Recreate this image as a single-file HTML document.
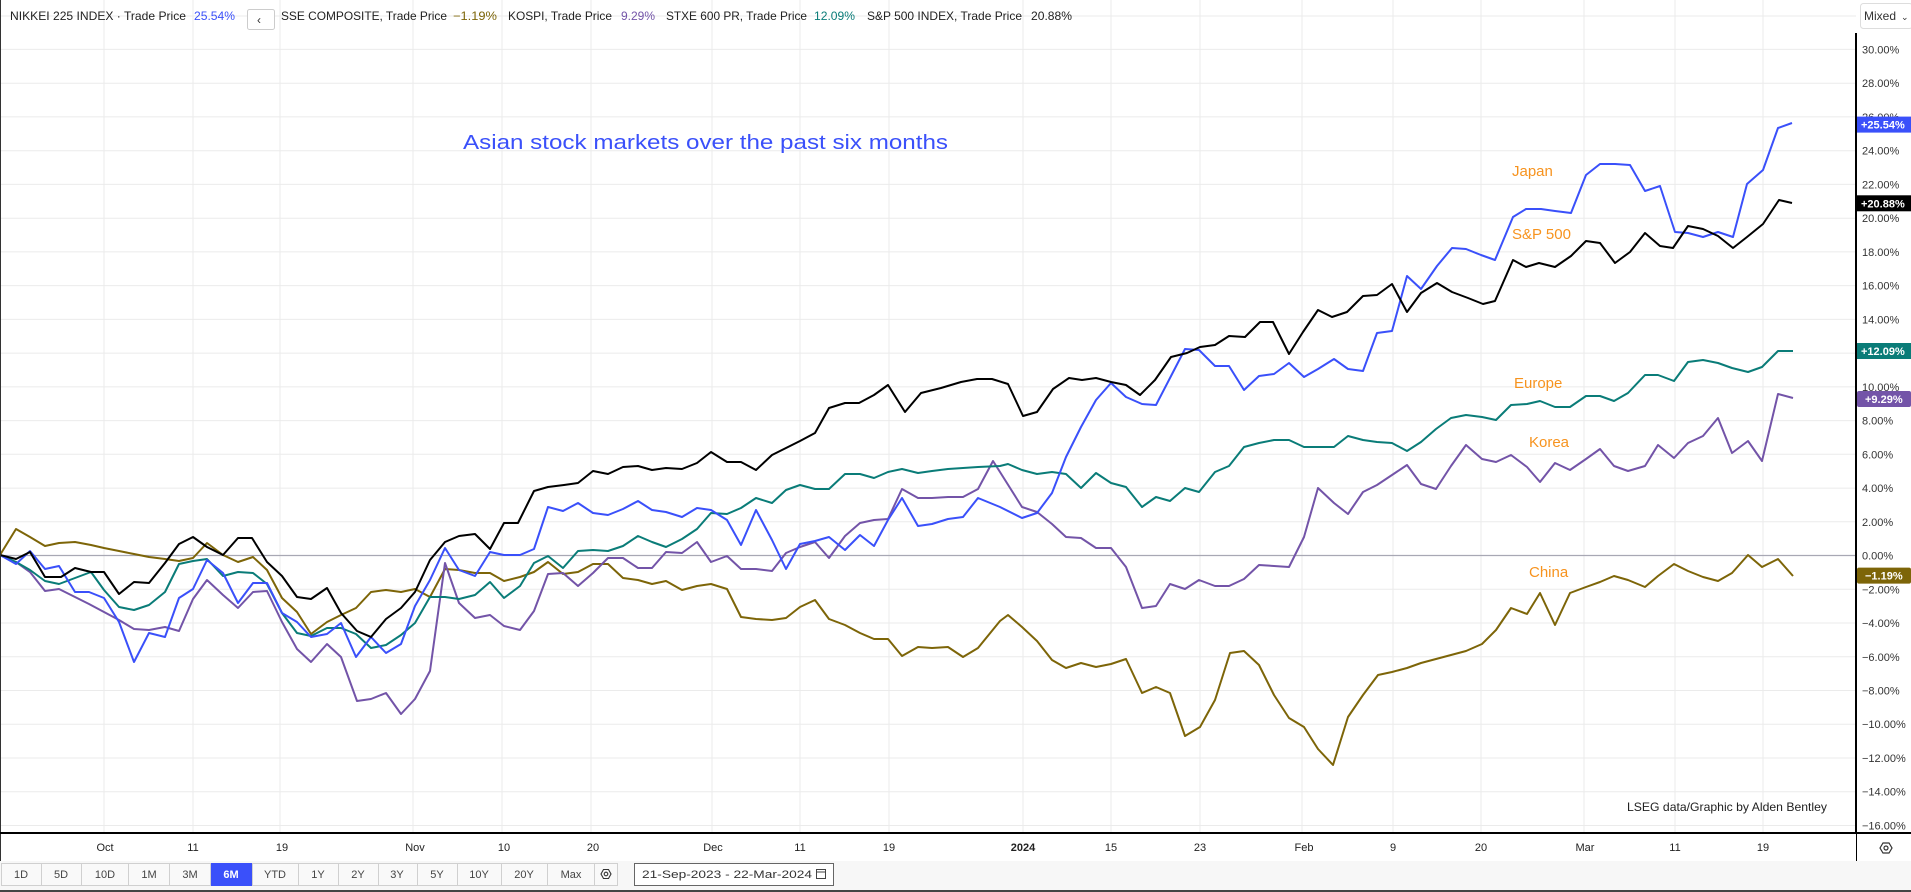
<!DOCTYPE html>
<html><head><meta charset="utf-8"><style>
html,body{margin:0;padding:0;background:#fff;}
svg{display:block;font-family:"Liberation Sans",sans-serif;}
</style></head><body>
<svg width="1911" height="892" viewBox="0 0 1911 892" xmlns="http://www.w3.org/2000/svg">
<rect x="0" y="0" width="1911" height="892" fill="#fff"/>
<g stroke="#ebebeb" stroke-width="1">
<line x1="0" y1="16" x2="1856" y2="16"/>
<line x1="0" y1="49.4" x2="1856" y2="49.4"/><line x1="0" y1="83.2" x2="1856" y2="83.2"/><line x1="0" y1="116.9" x2="1856" y2="116.9"/><line x1="0" y1="150.7" x2="1856" y2="150.7"/><line x1="0" y1="184.4" x2="1856" y2="184.4"/><line x1="0" y1="218.2" x2="1856" y2="218.2"/><line x1="0" y1="251.9" x2="1856" y2="251.9"/><line x1="0" y1="285.6" x2="1856" y2="285.6"/><line x1="0" y1="319.4" x2="1856" y2="319.4"/><line x1="0" y1="353.1" x2="1856" y2="353.1"/><line x1="0" y1="386.9" x2="1856" y2="386.9"/><line x1="0" y1="420.6" x2="1856" y2="420.6"/><line x1="0" y1="454.3" x2="1856" y2="454.3"/><line x1="0" y1="488.1" x2="1856" y2="488.1"/><line x1="0" y1="521.8" x2="1856" y2="521.8"/><line x1="0" y1="589.3" x2="1856" y2="589.3"/><line x1="0" y1="623" x2="1856" y2="623"/><line x1="0" y1="656.8" x2="1856" y2="656.8"/><line x1="0" y1="690.5" x2="1856" y2="690.5"/><line x1="0" y1="724.2" x2="1856" y2="724.2"/><line x1="0" y1="758" x2="1856" y2="758"/><line x1="0" y1="791.7" x2="1856" y2="791.7"/><line x1="0" y1="825.5" x2="1856" y2="825.5"/>
<line x1="104" y1="0" x2="104" y2="833"/><line x1="193" y1="0" x2="193" y2="833"/><line x1="280" y1="0" x2="280" y2="833"/><line x1="413" y1="0" x2="413" y2="833"/><line x1="502" y1="0" x2="502" y2="833"/><line x1="591" y1="0" x2="591" y2="833"/><line x1="712" y1="0" x2="712" y2="833"/><line x1="800" y1="0" x2="800" y2="833"/><line x1="889" y1="0" x2="889" y2="833"/><line x1="1023" y1="0" x2="1023" y2="833"/><line x1="1111" y1="0" x2="1111" y2="833"/><line x1="1200" y1="0" x2="1200" y2="833"/><line x1="1302" y1="0" x2="1302" y2="833"/><line x1="1393" y1="0" x2="1393" y2="833"/><line x1="1481" y1="0" x2="1481" y2="833"/><line x1="1584" y1="0" x2="1584" y2="833"/><line x1="1675" y1="0" x2="1675" y2="833"/><line x1="1763" y1="0" x2="1763" y2="833"/>
</g>
<line x1="0" y1="555.5" x2="1856" y2="555.5" stroke="#a8a8b4" stroke-width="1.2"/>
<g fill="none" stroke-width="2" stroke-linejoin="round">
<polyline stroke="#7d6508" points="0,555 16,529 30,537 45,546 59,543 75,542 91,545 104,548 119,551 134,554 149,557 165,559 179,561 193,558 207,543 223,555 238,562 253,557 267,570 282,598 297,612 311,634 327,622 341,615 356,608 371,592 386,590 401,592 415,589 430,597 445,569 459,570 475,573 490,573 504,581 520,577 534,572 548,562 563,574 578,572 593,564 608,564 623,578 638,580 652,584 666,581 682,590 697,586 711,584 727,589 741,617 756,619 772,620 786,618 800,607 815,600 829,619 845,625 860,633 874,639 888,639 902,656 918,647 932,648 948,647 963,657 978,648 1000,621 1008,615 1022,627 1037,641 1052,660 1066,668 1081,663 1096,667 1111,664 1126,659 1142,693 1156,687 1170,693 1185,736 1200,727 1215,700 1230,653 1244,651 1259,665 1274,695 1289,718 1304,727 1318,749 1333,765 1348,717 1363,695 1378,675 1392,672 1407,668 1421,663 1436,659 1451,655 1466,651 1482,644 1496,630 1511,608 1527,614 1540,593 1555,625 1570,593 1586,587 1600,582 1614,576 1628,580 1645,587 1658,576 1674,564 1688,571 1703,577 1718,581 1732,573 1748,555 1762,567 1778,559 1793,576"/>
<polyline stroke="#7354a8" points="0,555 16,562 30,572 45,591 59,589 75,597 89,604 104,612 119,620 134,629 149,630 165,627 179,631 193,599 207,580 223,595 238,608 253,592 267,591 282,622 297,649 311,662 327,644 341,657 357,701 371,699 386,693 401,714 415,699 430,671 445,563 459,603 475,618 490,615 504,626 520,630 534,611 548,574 563,573 578,586 593,573 608,558 623,558 638,568 652,568 666,552 682,553 697,542 711,562 727,556 741,569 756,569 772,571 786,553 800,547 815,542 829,558 845,536 860,523 874,520 888,519 902,489 918,498 932,498 948,497 963,497 978,489 993,461 1000,472 1022,507 1037,512 1052,524 1066,537 1081,538 1096,548 1111,548 1126,567 1142,608 1156,606 1170,584 1185,589 1199,580 1215,586 1229,586 1244,579 1259,565 1274,566 1289,567 1304,537 1318,488 1334,503 1348,514 1363,492 1377,485 1392,475 1407,465 1421,484 1436,489 1451,466 1466,445 1482,459 1496,462 1511,455 1527,467 1540,482 1555,463 1570,470 1586,459 1600,449 1614,466 1628,471 1645,466 1658,445 1674,458 1688,443 1703,436 1718,418 1732,453 1748,441 1762,461 1778,394 1793,398"/>
<polyline stroke="#0a7c78" points="0,555 16,562 30,570 45,581 59,584 75,578 91,572 104,590 119,607 134,610 149,605 165,592 179,564 193,561 207,559 223,576 238,572 253,573 267,584 282,613 297,633 311,636 327,628 341,628 356,634 371,648 386,645 401,635 415,623 430,597 445,597 459,599 475,595 490,582 504,598 520,586 534,563 548,556 563,568 578,551 593,550 608,551 623,546 638,536 652,542 666,547 682,539 697,529 711,513 727,514 741,508 756,498 772,503 786,490 800,485 815,489 829,489 845,474 860,474 874,478 888,472 902,469 918,473 932,471 948,469 963,468 978,467 1000,466 1008,464 1022,470 1037,474 1052,472 1066,474 1081,488 1096,473 1111,483 1126,487 1142,507 1156,497 1170,501 1185,488 1199,492 1215,472 1229,466 1244,447 1259,443 1274,440 1289,440 1304,447 1318,447 1334,447 1348,436 1363,440 1377,442 1392,443 1407,451 1421,442 1436,429 1451,418 1466,415 1482,417 1496,420 1511,405 1527,404 1540,401 1555,407 1570,407 1586,396 1600,396 1614,401 1628,393 1645,375 1658,375 1674,381 1688,362 1703,360 1718,363 1732,368 1748,372 1762,367 1778,351 1793,351"/>
<polyline stroke="#3a50fa" points="0,555 16,564 30,551 45,569 59,566 75,592 89,592 104,598 119,622 134,662 149,633 165,637 179,598 193,589 207,560 223,573 238,603 253,583 267,583 282,613 297,622 311,637 327,634 341,623 356,657 371,637 386,653 401,644 415,606 430,580 445,548 459,570 475,576 490,552 504,555 520,555 534,549 548,507 563,511 578,503 593,513 608,515 623,509 638,501 652,510 666,512 682,517 697,508 711,510 727,520 741,545 756,510 772,540 786,569 800,544 815,541 829,537 845,550 860,535 874,546 888,520 902,498 918,526 932,524 948,519 963,517 978,498 1000,507 1022,518 1037,513 1052,493 1066,457 1081,427 1096,400 1111,383 1126,397 1142,404 1156,405 1170,378 1185,349 1199,350 1215,366 1229,366 1244,390 1259,376 1274,374 1289,363 1304,377 1318,369 1334,359 1348,369 1363,371 1377,333 1392,331 1407,276 1421,289 1437,266 1452,248 1466,249 1481,255 1495,260 1513,217 1526,209 1541,209 1555,211 1571,213 1586,175 1600,164 1615,164 1630,165 1645,191 1660,186 1675,232 1688,233 1703,237 1718,232 1733,237 1747,184 1763,170 1778,128 1792,123"/>
<polyline stroke="#000" points="0,555 16,559 30,552 45,577 61,577 75,568 91,572 104,572 119,594 134,582 149,583 165,563 179,544 193,537 207,547 223,555 238,538 252,538 267,562 282,576 297,597 311,599 327,588 341,613 357,631 371,637 386,619 401,608 415,592 430,560 445,542 459,536 475,534 490,549 504,523 518,523 534,491 548,487 564,485 578,483 593,471 608,474 623,467 638,466 652,470 666,468 682,469 697,463 711,452 727,462 741,462 756,470 772,455 786,448 800,441 815,433 829,408 845,403 859,403 874,395 888,385 905,412 921,393 941,388 961,382 977,379 992,379 1008,384 1023,416 1037,412 1053,389 1069,378 1082,380 1096,378 1111,382 1126,385 1140,395 1155,380 1171,357 1187,353 1200,347 1215,345 1229,336 1245,337 1260,322 1273,322 1289,354 1303,332 1318,310 1332,317 1347,312 1363,296 1377,295 1392,284 1407,312 1421,293 1437,283 1452,292 1468,298 1483,304 1495,301 1513,260 1526,267 1539,263 1555,267 1571,256 1586,241 1600,243 1615,263 1630,252 1645,233 1660,246 1673,248 1688,226 1703,229 1718,236 1733,248 1747,237 1763,224 1779,200 1792,203"/>
</g>
<text x="463" y="149" font-size="20" fill="#3a50fa" textLength="485" lengthAdjust="spacingAndGlyphs">Asian stock markets over the past six months</text>
<g font-size="15" fill="#f7931e">
<text x="1512" y="176">Japan</text>
<text x="1512" y="239">S&amp;P 500</text>
<text x="1514" y="388">Europe</text>
<text x="1529" y="447">Korea</text>
<text x="1529" y="577">China</text>
</g>
<text x="1627" y="811" font-size="12" fill="#222" textLength="200" lengthAdjust="spacingAndGlyphs">LSEG data/Graphic by Alden Bentley</text>
<line x1="0.5" y1="0" x2="0.5" y2="892" stroke="#333" stroke-width="1"/>
<rect x="1857" y="33" width="54" height="828" fill="#fff"/>
<line x1="1856" y1="33" x2="1856" y2="861" stroke="#000" stroke-width="2"/>
<line x1="0" y1="833" x2="1911" y2="833" stroke="#000" stroke-width="2"/>
<rect x="1" y="834" width="1855" height="27" fill="#fff"/>
<g font-size="11" fill="#333">
<text x="1862" y="53.4">30.00%</text><text x="1862" y="87.2">28.00%</text><text x="1862" y="120.9">26.00%</text><text x="1862" y="154.7">24.00%</text><text x="1862" y="188.4">22.00%</text><text x="1862" y="222.2">20.00%</text><text x="1862" y="255.9">18.00%</text><text x="1862" y="289.6">16.00%</text><text x="1862" y="323.4">14.00%</text><text x="1862" y="357.1">12.00%</text><text x="1862" y="390.9">10.00%</text><text x="1862" y="424.6">8.00%</text><text x="1862" y="458.3">6.00%</text><text x="1862" y="492.1">4.00%</text><text x="1862" y="525.8">2.00%</text><text x="1862" y="559.5">0.00%</text><text x="1862" y="593.3">−2.00%</text><text x="1862" y="627">−4.00%</text><text x="1862" y="660.8">−6.00%</text><text x="1862" y="694.5">−8.00%</text><text x="1862" y="728.2">−10.00%</text><text x="1862" y="762">−12.00%</text><text x="1862" y="795.7">−14.00%</text><text x="1862" y="829.5">−16.00%</text>
</g>
<g font-size="11" font-weight="bold" fill="#fff">
<rect x="1857" y="116.6" width="54" height="16" fill="#3a50fa"/><text x="1861" y="128.6">+25.54%</text>
<rect x="1857" y="195.3" width="54" height="16" fill="#000"/><text x="1861" y="207.3">+20.88%</text>
<rect x="1857" y="343" width="54" height="16" fill="#0a7c78"/><text x="1861" y="355">+12.09%</text>
<rect x="1857" y="391" width="54" height="16" rx="2" fill="#7354a8"/><text x="1865" y="403">+9.29%</text>
<rect x="1857" y="567.6" width="54" height="16" rx="2" fill="#7d6508"/><text x="1865" y="579.6">−1.19%</text>
</g>
<rect x="1860.5" y="3.5" width="52" height="25" rx="3" fill="#fff" stroke="#ddd"/>
<text x="1864" y="20" font-size="12" fill="#333">Mixed</text>
<text x="1901" y="20" font-size="9" fill="#333">⌄</text>
<g font-size="12">
<text x="10" y="20" fill="#222" textLength="176" lengthAdjust="spacingAndGlyphs">NIKKEI 225 INDEX · Trade Price</text>
<text x="194" y="20" fill="#3a50fa" textLength="41" lengthAdjust="spacingAndGlyphs">25.54%</text>
<rect x="247.5" y="9.5" width="27" height="20" rx="2" fill="#fff" stroke="#ccc"/>
<text x="257" y="24" fill="#333" font-size="12">‹</text>
<text x="281" y="20" fill="#222" textLength="166" lengthAdjust="spacingAndGlyphs">SSE COMPOSITE, Trade Price</text>
<text x="453" y="20" fill="#7d6508" textLength="44" lengthAdjust="spacingAndGlyphs">−1.19%</text>
<text x="508" y="20" fill="#222" textLength="104" lengthAdjust="spacingAndGlyphs">KOSPI, Trade Price</text>
<text x="621" y="20" fill="#7354a8" textLength="34" lengthAdjust="spacingAndGlyphs">9.29%</text>
<text x="666" y="20" fill="#222" textLength="141" lengthAdjust="spacingAndGlyphs">STXE 600 PR, Trade Price</text>
<text x="814" y="20" fill="#0a7c78" textLength="41" lengthAdjust="spacingAndGlyphs">12.09%</text>
<text x="867" y="20" fill="#222" textLength="155" lengthAdjust="spacingAndGlyphs">S&amp;P 500 INDEX, Trade Price</text>
<text x="1031" y="20" fill="#222" textLength="41" lengthAdjust="spacingAndGlyphs">20.88%</text>
</g>
<g font-size="11" fill="#222" text-anchor="middle">
<text x="105" y="851">Oct</text><text x="193" y="851">11</text><text x="282" y="851">19</text><text x="415" y="851">Nov</text><text x="504" y="851">10</text><text x="593" y="851">20</text><text x="713" y="851">Dec</text><text x="800" y="851">11</text><text x="889" y="851">19</text><text x="1023" y="851" font-weight="bold">2024</text><text x="1111" y="851">15</text><text x="1200" y="851">23</text><text x="1304" y="851">Feb</text><text x="1393" y="851">9</text><text x="1481" y="851">20</text><text x="1585" y="851">Mar</text><text x="1675" y="851">11</text><text x="1763" y="851">19</text>
</g>
<g fill="none" stroke="#333" stroke-width="1.2"><polygon points="1880,848 1883,843 1889,843 1892,848 1889,853 1883,853"/><circle cx="1886" cy="848" r="2"/></g>
<rect x="0" y="861" width="1911" height="30" fill="#f7f7f7"/>
<line x1="0" y1="891" x2="1911" y2="891" stroke="#444" stroke-width="2"/>
<g stroke="#d0d0d0" fill="#f9f9f9">
<rect x="1.5" y="863.5" width="40" height="22"/><rect x="41.5" y="863.5" width="40" height="22"/><rect x="81.5" y="863.5" width="47" height="22"/><rect x="128.5" y="863.5" width="41" height="22"/><rect x="169.5" y="863.5" width="41" height="22"/><rect x="252.5" y="863.5" width="46" height="22"/><rect x="298.5" y="863.5" width="40" height="22"/><rect x="338.5" y="863.5" width="40" height="22"/><rect x="378.5" y="863.5" width="39" height="22"/><rect x="417.5" y="863.5" width="40" height="22"/><rect x="457.5" y="863.5" width="44" height="22"/><rect x="501.5" y="863.5" width="46" height="22"/><rect x="547.5" y="863.5" width="47" height="22"/><rect x="594.5" y="863.5" width="23" height="22"/>
</g>
<rect x="211" y="863" width="41" height="23" fill="#3a50fa"/>
<g font-size="11" fill="#444" text-anchor="middle">
<text x="21" y="878">1D</text><text x="61" y="878">5D</text><text x="105" y="878">10D</text><text x="149" y="878">1M</text><text x="190" y="878">3M</text><text x="231" y="878" fill="#fff" font-weight="bold">6M</text><text x="275" y="878">YTD</text><text x="318" y="878">1Y</text><text x="358" y="878">2Y</text><text x="397" y="878">3Y</text><text x="437" y="878">5Y</text><text x="479" y="878">10Y</text><text x="524" y="878">20Y</text><text x="571" y="878">Max</text>
</g>
<g fill="none" stroke="#333" stroke-width="1.1"><polygon points="601,874 603.5,869.5 608.5,869.5 611,874 608.5,878.5 603.5,878.5"/><circle cx="606" cy="874" r="1.8"/></g>
<rect x="634.5" y="863.5" width="199" height="22" fill="#fff" stroke="#666"/>
<text x="642" y="878" font-size="11" fill="#333" textLength="170" lengthAdjust="spacingAndGlyphs">21-Sep-2023  -  22-Mar-2024</text>
<rect x="816.5" y="869.5" width="9" height="9" fill="none" stroke="#444"/><line x1="816" y1="872" x2="826" y2="872" stroke="#444"/>
</svg>
</body></html>
